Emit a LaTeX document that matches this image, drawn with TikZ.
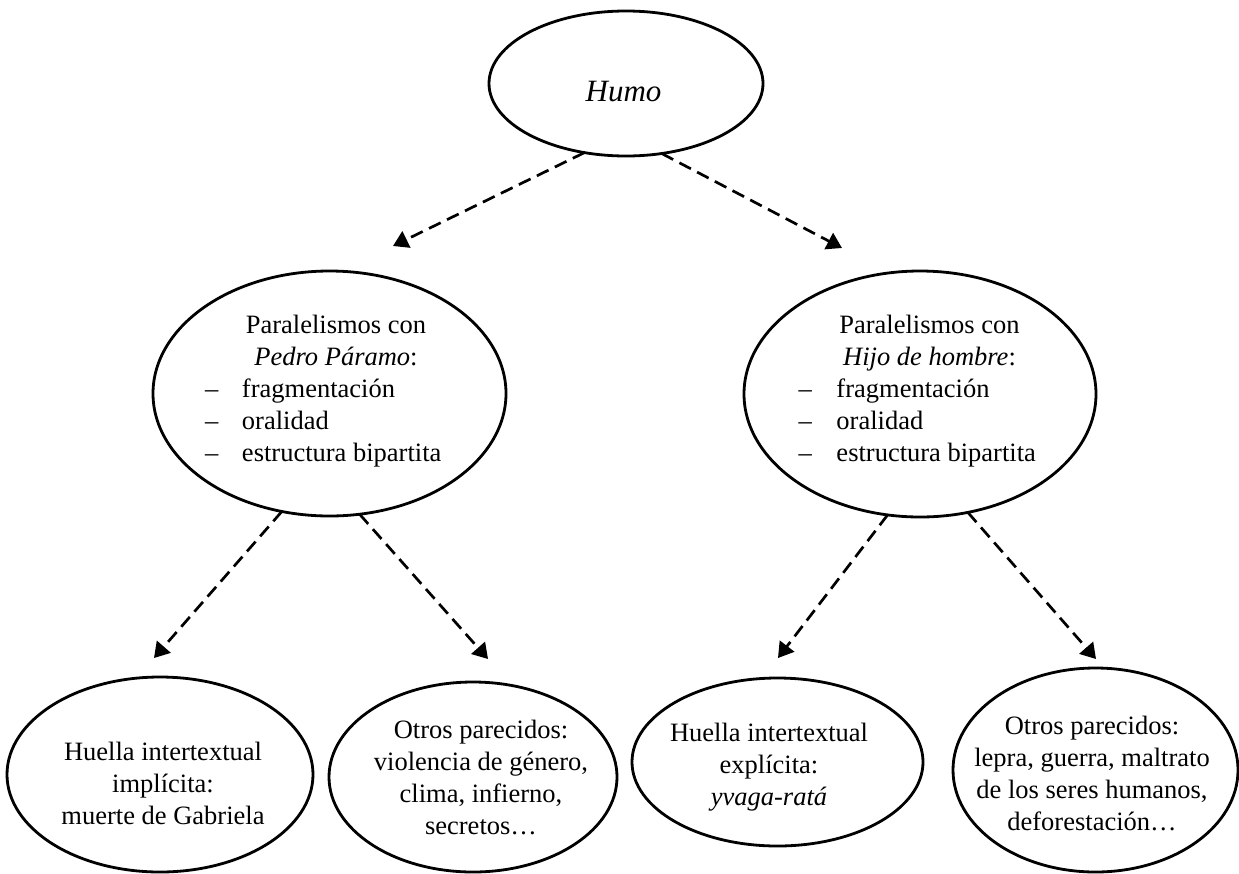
\documentclass[tikz,border=0pt]{standalone}
\usepackage{fontspec}
\setmainfont{Liberation Serif}
\usetikzlibrary{shapes.geometric,arrows.meta}
\begin{document}
\begin{tikzpicture}[x=1pt,y=-1pt,
  oval/.style={draw, ellipse, line width=2.8pt, inner sep=0pt, outer sep=0pt},
  txt/.style={font=\fontsize{26.5}{32}\selectfont, align=center, inner sep=0pt},
  conn/.style={line width=2.7pt, dash pattern=on 13pt off 7pt, -{Triangle[length=15pt,width=18pt]}}]
\useasboundingbox (0,0) rectangle (1239,873);
% ellipses
\node[oval, minimum width=274pt, minimum height=145pt] (humo) at (626,83.5) {};
\node[oval, minimum width=353pt, minimum height=245pt] (pp) at (329.5,393.5) {};
\node[oval, minimum width=352pt, minimum height=246pt] (hh) at (920,394) {};
\node[oval, minimum width=306pt, minimum height=195pt] (e1) at (160,774.5) {};
\node[oval, minimum width=288pt, minimum height=190pt] (e2) at (473,777) {};
\node[oval, minimum width=291pt, minimum height=168pt] (e3) at (777.5,762) {};
\node[oval, minimum width=285pt, minimum height=204pt] (e4) at (1095.5,770) {};
% texts
\node[txt, font=\fontsize{31}{36}\selectfont\itshape] (humot) at (623.5,92) {Humo};
\node[txt, align=left] (ppt) at (336,391) {\makebox[262pt][c]{Paralelismos con}\\\makebox[262pt][c]{\textit{Pedro Páramo}:}\\\makebox[37pt][l]{–}fragmentación\\\makebox[37pt][l]{–}oralidad\\\makebox[37pt][l]{–}estructura bipartita};
\node[txt, align=left] (hht) at (929.5,391) {\makebox[262pt][c]{Paralelismos con}\\\makebox[262pt][c]{\textit{Hijo de hombre}:}\\\makebox[38pt][l]{–}fragmentación\\\makebox[38pt][l]{–}oralidad\\\makebox[38pt][l]{–}estructura bipartita};
\node[txt] (t1) at (163,783) {Huella intertextual\\implícita:\\muerte de Gabriela};
\node[txt] (t2) at (481,777.5) {Otros parecidos:\\violencia de género,\\clima, infierno,\\secretos…};
\node[txt] (t3) at (769,767.5) {Huella intertextual\\explícita:\\\textit{yvaga-ratá}};
\node[txt] (t4) at (1092,773.5) {Otros parecidos:\\lepra, guerra, maltrato\\de los seres humanos,\\deforestación…};
% arrow tips
\coordinate (a1) at (393,246);
\coordinate (a2) at (842,248);
\coordinate (b1) at (154,658);
\coordinate (b2) at (488,659);
\coordinate (b3) at (778,658);
\coordinate (b4) at (1096,659);
% connectors
\draw[conn] (humo.239.5) -- (a1);
\draw[conn] (humo.297.4) -- (a2);
\draw[conn] (pp.248.2) -- (b1);
\draw[conn] (pp.284.4) -- (b2);
\draw[conn] (hh.255.4) -- (b3);
\draw[conn] (hh.292.3) -- (b4);
\end{tikzpicture}
\end{document}
